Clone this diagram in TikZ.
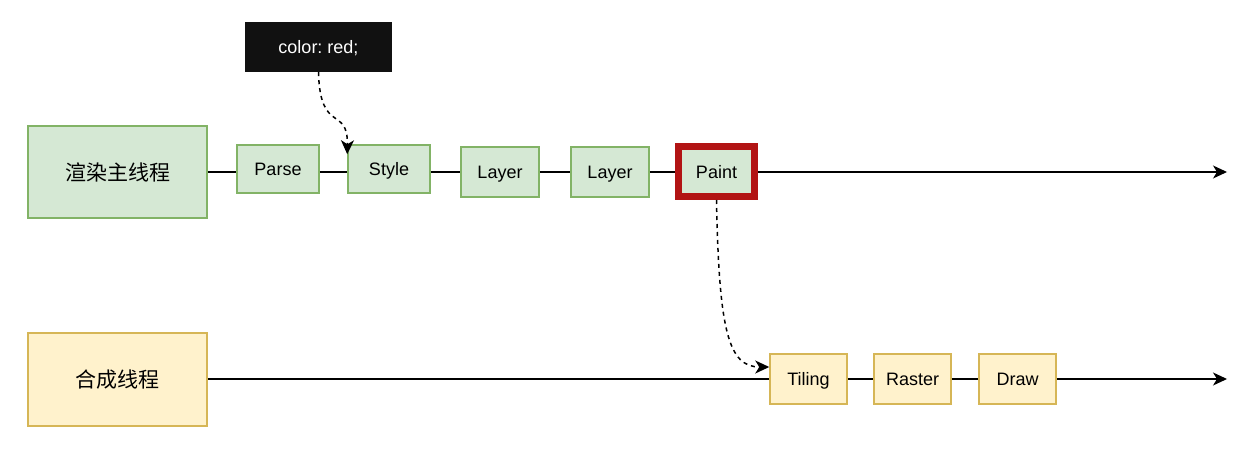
\documentclass[tikz,border=0pt]{standalone}
\usepackage{fontspec}
\setmainfont{Liberation Sans}
\newfontfamily\cjk{Noto Sans CJK SC}
\usetikzlibrary{arrows.meta}
\definecolor{greenfill}{HTML}{D5E8D4}
\definecolor{greenline}{HTML}{82B366}
\definecolor{yellowfill}{HTML}{FFF2CC}
\definecolor{yellowline}{HTML}{D6B656}
\definecolor{paintred}{HTML}{B21414}
\definecolor{codebg}{HTML}{111111}
\tikzset{
  label text/.style={font=\fontsize{18}{21}\selectfont, text height=13pt, text depth=0pt},
  thread/.style={draw=greenline, fill=greenfill, line width=1.5pt, minimum width=179pt, minimum height=92pt, inner sep=0pt, font=\cjk\fontsize{21}{25}\selectfont},
  stage/.style={draw=greenline, fill=greenfill, line width=1.5pt, minimum height=48pt, inner sep=0pt, label text},
  compstage/.style={draw=yellowline, fill=yellowfill, line width=1.5pt, minimum width=77pt, minimum height=50pt, inner sep=0pt, label text},
  timeline/.style={line width=1.3pt},
  flowarrow/.style={line width=1.3pt, -{Stealth[length=14pt,width=13pt,inset=4pt]}},
  dashlink/.style={line width=1.5pt, dash pattern=on 4pt off 4pt, -{Stealth[length=14pt,width=13pt,inset=4pt]}},
}
\begin{document}
\frenchspacing
\begin{tikzpicture}[x=1pt, y=-1pt]
\useasboundingbox (0,0) rectangle (1260,452);

% main (render) thread
\node[thread] (mainthr) at (117.5,172) {渲染主线程};
\node[stage, minimum width=82pt] (parse) at (278,169) {Parse};
\node[stage, minimum width=82pt] (style) at (389,169) {Style};
\node[stage, minimum width=78pt, minimum height=50pt] (layerA) at (500,172) {Layer};
\node[stage, minimum width=78pt, minimum height=50pt] (layerB) at (610,172) {Layer};
\node[draw=paintred, fill=greenfill, line width=7pt, minimum width=76pt, minimum height=50pt, inner sep=0pt, label text] (paint) at (716.5,171.5) {Paint};
\coordinate (mainend) at (1227,172);

% compositor thread
\node[thread, draw=yellowline, fill=yellowfill, minimum height=93pt] (compthr) at (117.5,379.5) {合成线程};
\node[compstage] (tiling) at (808.5,379) {Tiling};
\node[compstage] (raster) at (912.5,379) {Raster};
\node[compstage] (drawst) at (1017.5,379) {Draw};
\coordinate (compend) at (1227,379);

% style declaration
\node[fill=codebg, text=white, minimum width=147pt, minimum height=50pt, inner sep=0pt, label text] (code) at (318.5,47) {color: red;};

% main thread timeline
\draw[timeline] (mainthr.east |- 0,172) -- (parse.west |- 0,172);
\draw[timeline] (parse.east |- 0,172) -- (style.west |- 0,172);
\draw[timeline] (style.east |- 0,172) -- (layerA.west);
\draw[timeline] (layerA.east) -- (layerB.west);
\draw[timeline] (layerB.east) -- (paint.west |- 0,172);
\draw[flowarrow] (paint.east |- 0,172) -- (mainend);

% compositor timeline
\draw[timeline] (compthr.east |- 0,379) -- (tiling.west);
\draw[timeline] (tiling.east) -- (raster.west);
\draw[timeline] (raster.east) -- (drawst.west);
\draw[flowarrow] (drawst.east) -- (compend);

% dashed links
\coordinate (styletip) at ([yshift=-10pt]style.north west);
\draw[dashlink] (code.south) .. controls (320,135) and (348,105) .. (styletip);
\coordinate (tiletip) at ([yshift=12pt]tiling.west);
\draw[dashlink] (paint.south) .. controls (719,330) and (728,367) .. (tiletip);
\end{tikzpicture}
\end{document}
